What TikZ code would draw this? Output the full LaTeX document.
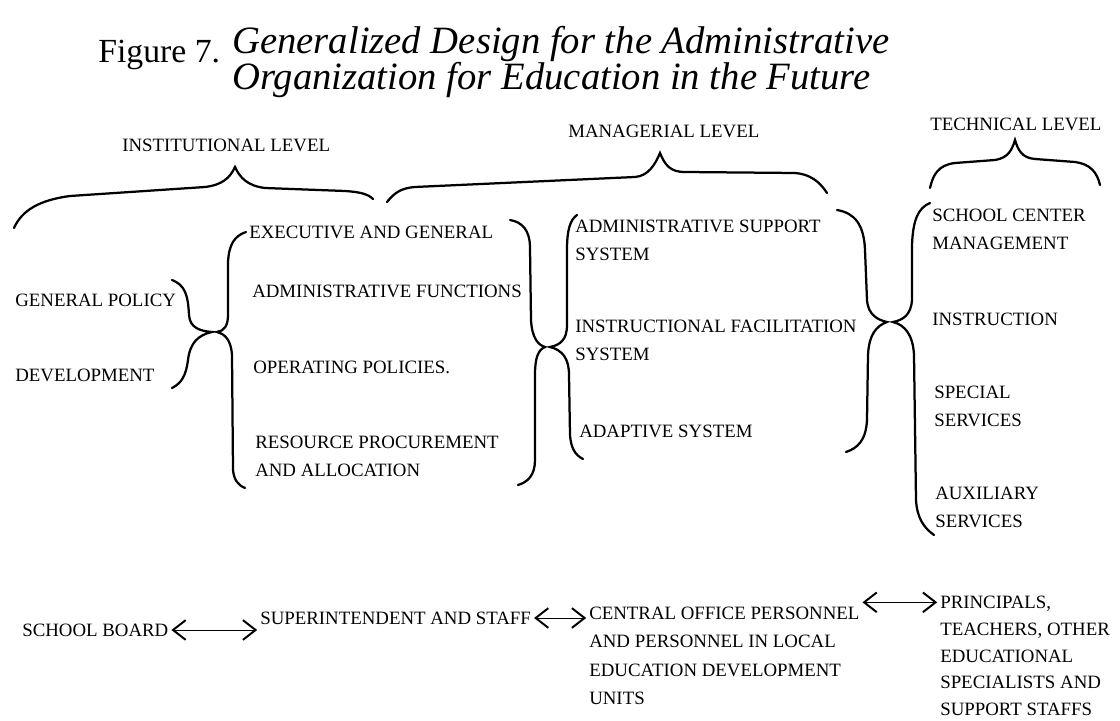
\documentclass[tikz,border=0pt]{standalone}
\usepackage{fontspec}
\setmainfont{Liberation Serif}
\usetikzlibrary{arrows.meta}
\usetikzlibrary{positioning}

\begin{document}
\begin{tikzpicture}[x=0.025cm,y=-0.025cm,
  txt/.style={inner sep=0pt,align=left,font=\fontsize{13.4}{20}\selectfont},
  brc/.style={line width=1.6pt,line cap=round},
  link/.style={{Straight Barb[length=9pt,width=14pt,line width=1.4pt]}-{Straight Barb[length=9pt,width=14pt,line width=1.4pt]},line width=0.6pt,shorten <=2pt,shorten >=2pt}]

\useasboundingbox (0,0) rectangle (1120,721);

%% title
\node [anchor=base west,inner sep=0pt,font=\fontsize{24}{28}\selectfont] (fig) at (98,63) {Figure 7.};
\node [anchor=base west,inner sep=0pt,font=\fontsize{27.5}{28}\selectfont\itshape] (ttla) at (232,54) {Generalized Design for the Administrative};
\node [anchor=base west,inner sep=0pt,font=\fontsize{27.5}{28}\selectfont\itshape] (ttlb) at ([yshift=-25pt]ttla.base west) {Organization for Education in the Future};

%% levels
\node [txt,anchor=west] (inst) at (122,145) {INSTITUTIONAL LEVEL};
\node [txt,anchor=west] (mgr) at (568,131) {MANAGERIAL LEVEL};
\node [txt,anchor=west] (tech) at (930,124) {TECHNICAL LEVEL};
% level braces
\draw [brc] (14,228) .. controls (22,210) and (40,200) .. (70,196) -- (205,187) .. controls (222,185) and (230,178) .. (235,167) .. controls (240,178) and (248,186) .. (265,188) -- (345,191) .. controls (360,192) and (368,194) .. (373,199);
\draw [brc] (387,202) .. controls (395,192) and (402,188) .. (415,187) -- (635,177) .. controls (648,176) and (655,165) .. (660,153) .. controls (665,165) and (670,172) .. (685,172) -- (795,173) .. controls (810,174) and (820,182) .. (827,193);
\draw [brc] (930,188) .. controls (933,175) and (938,165) .. (955,163) -- (995,160) .. controls (1008,158) and (1012,150) .. (1015,140) .. controls (1018,150) and (1022,158) .. (1035,159) -- (1075,162) .. controls (1090,164) and (1097,172) .. (1100,185);

%% first column
\node [txt,anchor=west] (gpol) at (15,300) {GENERAL POLICY};
\node [txt,anchor=west] (dev) at (15,375) {DEVELOPMENT};
\draw [brc] (172,280) .. controls (185,285) and (188,295) .. (189,315) .. controls (190,328) and (200,331) .. (212,332) .. controls (198,335) and (190,343) .. (188,360) .. controls (186,375) and (182,383) .. (172,388);

%% second column
\node [txt,anchor=west] (exec) at (249,232) {EXECUTIVE AND GENERAL};
\node [txt,anchor=west] (afun) at (252,291) {ADMINISTRATIVE FUNCTIONS};
\node [txt,anchor=west] (opol) at (253,367) {OPERATING POLICIES.};
\node [txt,anchor=north west] (rproc) at (255,436) {RESOURCE PROCUREMENT\\AND ALLOCATION};
\draw [brc] (246,232) .. controls (234,236) and (229,245) .. (228,262) -- (228,315) .. controls (228,326) and (224,331) .. (217,332) .. controls (225,334) and (231,340) .. (232,355) -- (233,470) .. controls (234,480) and (238,485) .. (245,488);
\draw [brc] (510,220) .. controls (522,222) and (530,230) .. (530,248) -- (531,320) .. controls (532,338) and (538,345) .. (545,347) .. controls (538,350) and (535,358) .. (535,375) -- (535,460) .. controls (535,475) and (528,482) .. (518,485);

%% third column
\node [txt,anchor=north west] (asup) at (575,220) {ADMINISTRATIVE SUPPORT\\SYSTEM};
\node [txt,anchor=north west] (ifac) at (575,320) {INSTRUCTIONAL FACILITATION\\SYSTEM};
\node [txt,anchor=west] (adap) at (579,431) {ADAPTIVE SYSTEM};
\draw [brc] (577,215) .. controls (570,220) and (567,230) .. (567,250) -- (567,325) .. controls (567,340) and (560,345) .. (550,347) .. controls (562,350) and (569,358) .. (569,375) -- (570,435) .. controls (571,448) and (575,455) .. (583,459);
\draw [brc] (837,210) .. controls (855,213) and (864,225) .. (865,250) -- (867,300) .. controls (868,315) and (878,320) .. (887,322) .. controls (876,326) and (869,335) .. (868,355) -- (867,420) .. controls (866,440) and (858,448) .. (846,452);

%% fourth column
\node [txt,anchor=north west] (scm) at (932,209) {SCHOOL CENTER\\MANAGEMENT};
\node [txt,anchor=west] (instr) at (932,319) {INSTRUCTION};
\node [txt,anchor=north west] (spec) at (934,386) {SPECIAL\\SERVICES};
\node [txt,anchor=north west] (aux) at (935,487) {AUXILIARY\\SERVICES};
\draw [brc] (930,203) .. controls (918,208) and (913,220) .. (912,245) -- (912,300) .. controls (911,315) and (903,320) .. (893,322) .. controls (905,325) and (913,335) .. (914,355) -- (916,500) .. controls (917,518) and (924,528) .. (934,535);

%% who carries it out
\node [txt,anchor=west] (board) at (22,630) {SCHOOL BOARD};
\node [txt,anchor=west] (supt) at (260,618) {SUPERINTENDENT AND STAFF};
\node [txt,anchor=north west] (central) at (589,607) {CENTRAL OFFICE PERSONNEL\\AND PERSONNEL IN LOCAL\\EDUCATION DEVELOPMENT\\UNITS};
\node [txt,anchor=north west,font=\fontsize{13.4}{19}\selectfont] (princ) at (940,596) {PRINCIPALS,\\TEACHERS, OTHER\\EDUCATIONAL\\SPECIALISTS AND\\SUPPORT STAFFS};
\coordinate (pl) at ([yshift=-4.5pt]princ.north west);
\draw [link] (board.east) -- (board.east -| supt.west);
\draw [link] (supt.east) -- (supt.east -| central.west);
\draw [link] (pl -| central.east) -- (pl);

\end{tikzpicture}
\end{document}
